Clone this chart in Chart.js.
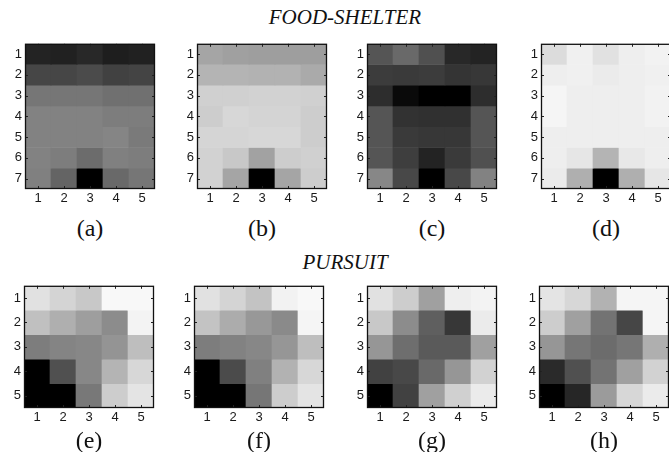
<!DOCTYPE html>
<html>
<head>
<meta charset="utf-8">
<script src="https://cdn.jsdelivr.net/npm/chart.js@4/dist/chart.umd.min.js"></script>
<style>
  html, body { margin: 0; padding: 0; background: #fff; }
  #wrap { position: relative; width: 669px; height: 452px; overflow: hidden; background: #fff; }
  canvas { position: absolute; }
  .t { position: absolute; transform: translate(-50%, -50%); line-height: 1; white-space: nowrap;
       font-family: "Liberation Serif", "Times New Roman", "DejaVu Serif", serif; color: #111; }
  .title { font-style: italic; font-size: 21px; }
  .lab { font-size: 24px; }
</style>
</head>
<body>
<div id="wrap"></div>
<script>
// ---- data (grey levels 0 = black, 255 = white), rows top to bottom ----
const colLabels = ['1', '2', '3', '4', '5'];
const foodRows = [1, 2, 3, 4, 5, 6, 7];
const pursuitRows = [1, 2, 3, 4, 5];
const sectionTitles = ['FOOD-SHELTER', 'PURSUIT'];
const panelLetters = ['(a)', '(b)', '(c)', '(d)', '(e)', '(f)', '(g)', '(h)'];

const gridA = [
  [35, 33, 40, 30, 33],
  [70, 70, 75, 65, 68],
  [118, 118, 118, 112, 112],
  [130, 130, 130, 125, 125],
  [130, 130, 130, 133, 122],
  [130, 125, 108, 128, 125],
  [128, 100, 0, 105, 118]
];
const gridB = [
  [165, 160, 158, 158, 158],
  [180, 180, 178, 178, 170],
  [208, 208, 210, 210, 208],
  [205, 215, 212, 212, 205],
  [213, 213, 215, 215, 205],
  [210, 200, 162, 205, 208],
  [210, 165, 0, 165, 205]
];
const gridC = [
  [85, 105, 80, 40, 35],
  [60, 58, 60, 52, 55],
  [45, 10, 0, 0, 45],
  [85, 50, 48, 48, 85],
  [85, 58, 55, 55, 85],
  [85, 62, 35, 58, 80],
  [135, 72, 0, 72, 130]
];
const gridD = [
  [220, 240, 225, 238, 242],
  [238, 240, 235, 238, 240],
  [245, 238, 238, 238, 242],
  [245, 238, 238, 238, 242],
  [238, 238, 238, 238, 238],
  [238, 230, 180, 232, 238],
  [235, 175, 0, 175, 230]
];
const gridE = [
  [225, 212, 200, 248, 248],
  [192, 175, 158, 140, 243],
  [125, 132, 135, 148, 190],
  [0, 80, 135, 180, 215],
  [0, 0, 120, 205, 228]
];
const gridF = [
  [225, 212, 195, 242, 248],
  [195, 172, 152, 138, 245],
  [125, 130, 135, 150, 190],
  [0, 75, 128, 178, 215],
  [0, 0, 118, 205, 228]
];
const gridG = [
  [225, 205, 160, 238, 243],
  [200, 140, 95, 55, 235],
  [150, 110, 90, 90, 160],
  [65, 72, 105, 150, 210],
  [0, 65, 160, 208, 235]
];
const gridH = [
  [228, 215, 178, 245, 245],
  [205, 160, 115, 70, 245],
  [150, 118, 108, 118, 175],
  [42, 80, 115, 160, 210],
  [0, 38, 155, 215, 235]
];

// ---- layout ----
const wrap = document.getElementById('wrap');
const Y_W = 25, X_H = 20, PAD_T = 4, PAD_R = 4;

const boxTicks = {
  id: 'boxTicks',
  afterDatasetsDraw(chart) {
    const { ctx, chartArea: a, scales: { x, y } } = chart;
    ctx.save();
    ctx.strokeStyle = '#222';
    ctx.lineWidth = 1;
    ctx.beginPath();
    x.ticks.forEach((t, i) => {
      const px = Math.round(x.getPixelForTick(i)) + 0.5;
      ctx.moveTo(px, a.bottom); ctx.lineTo(px, a.bottom - 3);
      ctx.moveTo(px, a.top); ctx.lineTo(px, a.top + 3);
    });
    y.ticks.forEach((t, i) => {
      const py = Math.round(y.getPixelForTick(i)) + 0.5;
      ctx.moveTo(a.left, py); ctx.lineTo(a.left + 3, py);
      ctx.moveTo(a.right, py); ctx.lineTo(a.right - 3, py);
    });
    ctx.stroke();
    ctx.lineWidth = 1.3;
    ctx.strokeStyle = '#111';
    ctx.strokeRect(a.left + 0.5, a.top + 0.5, a.width - 1, a.height - 1);
    ctx.restore();
  }
};

function addText(cls, txt, x, y) {
  const d = document.createElement('div');
  d.className = 't ' + cls;
  d.textContent = txt;
  d.style.left = x + 'px';
  d.style.top = y + 'px';
  wrap.appendChild(d);
}

function makePanel(grid, rows, boxLeft, boxTop, boxW, boxH, letter, letterY) {
  const cv = document.createElement('canvas');
  const w = Y_W + boxW + PAD_R, h = PAD_T + boxH + X_H;
  cv.width = w; cv.height = h;
  cv.style.left = (boxLeft - Y_W) + 'px';
  cv.style.top = (boxTop - PAD_T) + 'px';
  cv.style.width = w + 'px'; cv.style.height = h + 'px';
  wrap.appendChild(cv);

  const datasets = grid.map((row, i) => ({
    data: row.map(() => [rows[i] - 0.5, rows[i] + 0.5]),
    backgroundColor: row.map(v => `rgb(${v},${v},${v})`),
    borderWidth: 0,
    grouped: false,
    barPercentage: 1,
    categoryPercentage: 1
  }));

  const tickFont = { family: '"Liberation Sans", Arial, sans-serif', size: 13 };
  new Chart(cv, {
    type: 'bar',
    data: { labels: colLabels, datasets },
    options: {
      responsive: false,
      devicePixelRatio: 1,
      animation: false,
      layout: { padding: { top: PAD_T, right: PAD_R, left: 0, bottom: 0 } },
      plugins: { legend: { display: false }, tooltip: { enabled: false } },
      scales: {
        x: {
          type: 'category',
          grid: { display: false, drawTicks: false, tickLength: 0 },
          border: { display: false },
          ticks: { color: '#1a1a1a', font: tickFont, padding: 2, maxRotation: 0, autoSkip: false },
          afterFit(s) { s.height = X_H; }
        },
        y: {
          type: 'linear',
          reverse: true,
          min: rows[0] - 0.5,
          max: rows[rows.length - 1] + 0.5,
          grid: { display: false, drawTicks: false, tickLength: 0 },
          border: { display: false },
          afterBuildTicks(s) { s.ticks = rows.map(v => ({ value: v })); },
          ticks: { color: '#1a1a1a', font: tickFont, padding: 3, autoSkip: false,
                   callback: v => String(v) },
          afterFit(s) { s.width = Y_W; }
        }
      }
    },
    plugins: [boxTicks]
  });

  addText('lab', letter, boxLeft + boxW / 2, letterY);
}

// section titles
addText('title', sectionTitles[0], 345, 17);
addText('title', sectionTitles[1], 345, 262);

// top row (FOOD-SHELTER)
const topGrids = [gridA, gridB, gridC, gridD];
const topLefts = [25, 197, 367, 541];
topGrids.forEach((g, i) => makePanel(g, foodRows, topLefts[i], 37, 130, 152, panelLetters[i], 228));

// bottom row (PURSUIT)
const botGrids = [gridE, gridF, gridG, gridH];
const botLefts = [24, 194, 367, 539];
botGrids.forEach((g, i) => makePanel(g, pursuitRows, botLefts[i], 279, 130, 129, panelLetters[i + 4], 440));
</script>
</body>
</html>
